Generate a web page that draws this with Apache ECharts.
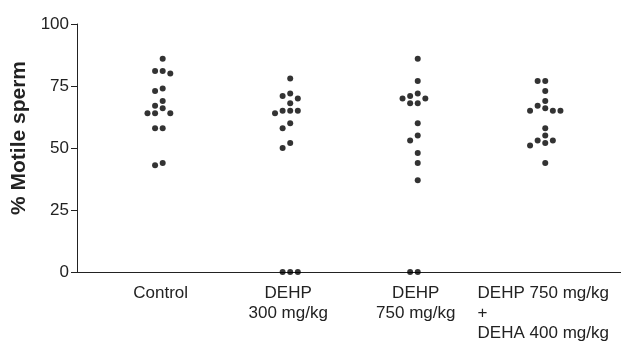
<!DOCTYPE html>
<html>
<head>
<meta charset="utf-8">
<script src="https://cdn.jsdelivr.net/npm/echarts@6/dist/echarts.min.js"></script>
<style>
html,body{margin:0;padding:0;background:#fff;}
#chart{width:621px;height:344px;}
</style>
</head>
<body>
<div id="chart"></div>
<script>
// ---- data ----
const categories = ['Control', 'DEHP\n300 mg/kg', 'DEHP\n750 mg/kg', 'DEHP 750 mg/kg\n+\nDEHA 400 mg/kg'];
const control  = [86, 81, 80, 81, 74, 73, 69, 67, 66, 64, 64, 64, 58, 58, 44, 43];
const dehp300  = [78, 72, 71, 70, 68, 65, 65, 64, 65, 60, 58, 52, 50, 0, 0, 0];
const dehp750  = [86, 77, 72, 71, 70, 70, 68, 68, 60, 55, 53, 48, 44, 37, 0, 0];
const dehpDeha = [77, 77, 73, 69, 67, 66, 65, 65, 65, 58, 55, 53, 53, 52, 51, 44];
const yTicks = [0, 25, 50, 75, 100];
const yTitle = '% Motile sperm';

// ---- layout ----
const W = 621, H = 344;
const grid = { left: 77, right: 0, top: 24, bottom: 72, containLabel: false, outerBoundsMode: 'none' };
const dotSize = 6, slotPx = 7.6, minGapPx = 6;
const pxPerUnit = (H - grid.top - grid.bottom) / (yTicks[yTicks.length - 1] - yTicks[0]);

// simple beeswarm: spread colliding dots into horizontal slots
function swarm(values) {
  const order = values.map((v, i) => i).sort((a, b) => values[b] - values[a]);
  const placed = [];
  const slots = new Array(values.length).fill(0);
  const cand = [0, -1, 1, -2, 2, -3, 3];
  order.forEach(i => {
    for (const s of cand) {
      const hit = placed.some(p => p.s === s && Math.abs(p.v - values[i]) * pxPerUnit < minGapPx);
      if (!hit) { slots[i] = s; placed.push({ s, v: values[i] }); break; }
    }
  });
  return slots;
}

const groups = [control, dehp300, dehp750, dehpDeha];
const data = [];
groups.forEach((vals, gi) => {
  const slots = swarm(vals);
  vals.forEach((v, k) => {
    data.push({ value: [gi + 1, v], symbolOffset: [slots[k] * slotPx, 0] });
  });
});

const chart = echarts.init(document.getElementById('chart'), null, { renderer: 'canvas' });
const fontFam = '"Liberation Sans", Arial, Helvetica, sans-serif';
chart.setOption({
  animation: false,
  backgroundColor: '#fff',
  grid: grid,
  xAxis: {
    type: 'value',
    min: 0.328,
    max: 4.594,
    splitLine: { show: false },
    axisLine: { show: true, lineStyle: { color: '#222', width: 1 } },
    axisTick: { show: false },
    axisLabel: {
      customValues: [1, 2, 3, 4],
      formatter: function (v) {
        const name = categories[Math.round(v) - 1] || '';
        if (name.indexOf('+') >= 0) {
          return name.split('\n').map(l => '{l|' + l + '}').join('\n');
        }
        return name;
      },
      color: '#222',
      fontFamily: fontFam,
      fontSize: 17,
      lineHeight: 20,
      margin: 11,
      padding: [0, 4, 0, 0],
      hideOverlap: false,
      rich: {
        l: { align: 'left', fontFamily: fontFam, fontSize: 17, lineHeight: 20, color: '#222' }
      }
    }
  },
  yAxis: {
    type: 'value',
    min: yTicks[0],
    max: yTicks[yTicks.length - 1],
    interval: 25,
    name: yTitle,
    nameLocation: 'middle',
    nameGap: 47,
    nameTextStyle: { fontFamily: fontFam, fontSize: 21, fontWeight: 'bold', color: '#222', padding: [0, 0, 0, 20] },
    splitLine: { show: false },
    axisLine: { show: true, lineStyle: { color: '#222', width: 1 } },
    axisTick: { show: true, length: 6, lineStyle: { color: '#222' } },
    axisLabel: { color: '#222', fontFamily: fontFam, fontSize: 17, margin: 8 }
  },
  series: [{
    type: 'scatter',
    data: data,
    symbol: 'circle',
    symbolSize: dotSize,
    itemStyle: { color: '#000' },
    clip: false
  }]
});
</script>
</body>
</html>
